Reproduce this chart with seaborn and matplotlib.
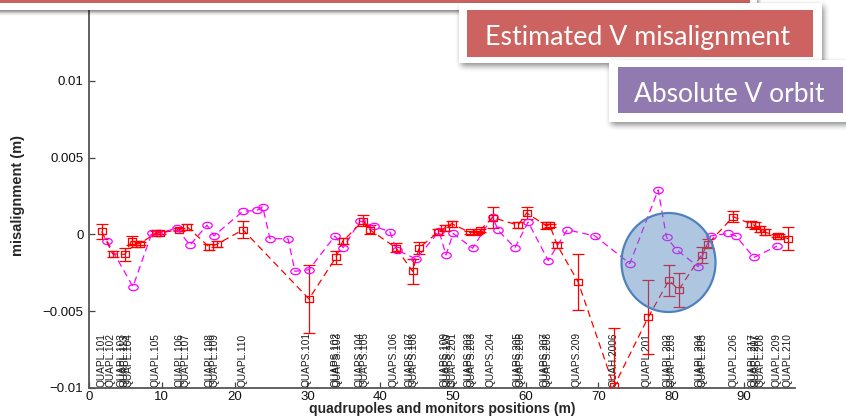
import numpy as np
import matplotlib
matplotlib.use("Agg")
import matplotlib.pyplot as plt
import seaborn as sns
from matplotlib.patches import Rectangle, Ellipse
from matplotlib.path import Path

# Estimated vertical misalignment of the quadrupoles (m) and its uncertainty
quad_pos = [1.74, 3.26, 4.95, 5.87, 6.46, 7.01, 9.2, 9.75, 12.36, 13.46, 16.48, 17.54,
            21.15, 30.22, 33.93, 34.85, 37.68, 38.6, 42.17, 44.46, 45.37, 47.98, 48.9,
            49.82, 52.34, 53.26, 53.71, 55.45, 58.97, 60.12, 62.77, 63.32, 64.33, 67.21,
            72.12, 76.83, 79.67, 81.04, 84.16, 85.07, 88.5, 90.89, 91.48, 92.17, 92.86,
            94.46, 94.82, 96.06]
quad_mis = [0.00019, -0.00127, -0.0013, -0.0004, -0.0006, -0.0006, 0.0001, 0.0001,
            0.0003, 0.0005, -0.0008, -0.00065, 0.0003, -0.0042, -0.0015, -0.00045,
            0.0009, 0.0003, -0.00087, -0.0024, -0.00087, 0.00015, 0.00043, 0.0007,
            0.00013, 0.00015, 0.00026, 0.0011, 0.0006, 0.0014, 0.00058, 0.00058,
            -0.0007, -0.0031, -0.0099, -0.0054, -0.003, -0.0036, -0.00134, -0.0006,
            0.00115, 0.0007, 0.00058, 0.00037, 0.00015, -0.0001, -0.0001, -0.00028]
quad_err = [0.0005, 0.0002, 0.0004, 0.0003, 0.0002, 0.0001, 0.0001, 0.0001,
            0.0001, 0.0002, 0.0002, 0.0002, 0.00055, 0.0022, 0.0004, 0.0002,
            0.00035, 0.0003, 0.0003, 0.0008, 0.0004, 0.0002, 0.0002, 0.0002,
            0.0001, 0.0001, 0.0001, 0.0007, 0.0002, 0.0004, 0.0002, 0.0001,
            0.0002, 0.0018, 0.0038, 0.0024, 0.001, 0.0011, 0.0005, 0.0003,
            0.00035, 0.0002, 0.0002, 0.0002, 0.0002, 0.0001, 0.0001, 0.00075]

# Absolute vertical orbit read at the monitors (m)
bpm_pos = [2.47, 6.04, 8.65, 9.34, 9.75, 12.05, 13.87, 16.21, 17.17, 21.11, 23.04,
           23.87, 24.86, 27.34, 28.3, 30.22, 33.79, 34.93, 37.23, 39.15, 41.35, 42.27,
           44.92, 48.12, 49.04, 50.04, 52.71, 55.45, 56.22, 58.52, 60.34, 63.09, 65.7,
           69.51, 74.31, 78.2, 79.35, 80.73, 83.7, 85.4, 87.82, 88.87, 91.35, 94.55]
bpm_orbit = [-0.00043, -0.0034, 0.0001, 0.0001, 0.0001, 0.0004, -0.0007, 0.0006,
             -0.0001, 0.0015, 0.00156, 0.0018, -0.00028, -0.00028, -0.0024, -0.0023,
             -0.0001, -0.00087, 0.00087, 0.00054, 0.00017, -0.001, -0.0016, 0.0002,
             -0.00134, 0.00006, -0.0009, 0.00115, 0.00026, -0.00087, 0.0008, -0.0017,
             0.0003, -0.0001, -0.0019, 0.0029, -0.0002, -0.001, -0.0021, -0.0001,
             0.00006, -0.0001, -0.0015, -0.00076]

# Element names written along the bottom of the axes
elem_names = ["QUAPL.101", "QUAPL.102", "QUAPL.103", "QUAPL.113", "QUAPL.104",
              "QUAPL.105", "QUAPL.106", "QUAPL.107", "QUAPL.108", "QUAPL.109",
              "QUAPL.110", "QUAPS.101", "QUAPS.102", "QUAPS.103", "QUAPS.104",
              "QUAPS.105", "QUAPS.106", "QUAPS.107", "QUAPS.108", "QUAPS.109",
              "QUAPS.110", "QUAPS.201", "QUAPS.202", "QUAPS.203", "QUAPS.204",
              "QUAPS.205", "QUAPS.206", "QUAPS.207", "QUAPS.208", "QUAPS.209",
              "QUAH.2006", "QUAPL.201", "QUAPL.202", "QUAPL.203", "QUAPL.204",
              "QUAPL.205", "QUAPL.206", "QUAPL.217", "QUAPL.207", "QUAPL.208",
              "QUAPL.209", "QUAPL.210"]
elem_pos = [1.65, 3.02, 4.4, 4.9, 5.36, 9.2, 12.5, 13.2, 16.6, 17.2, 21.15, 29.9,
            33.8, 34.2, 37.2, 37.8, 41.8, 44.1, 44.6, 48.9, 49.3, 49.9, 52.2, 52.6,
            55.1, 58.9, 59.3, 62.6, 63.0, 67.0, 72.0, 76.6, 79.5, 80.1, 83.9, 84.3,
            88.5, 91.1, 91.6, 92.2, 94.5, 96.0]

x_ticks = [0, 10, 20, 30, 40, 50, 60, 70, 80, 90]
y_ticks = [-0.01, -0.005, 0, 0.005, 0.01]
y_tick_labels = ["\u22120.01", "\u22120.005", "0", "0.005", "0.01"]

callout_red = "Estimated V misalignment"
callout_purple = "Absolute V orbit"

sns.set_style("ticks")
plt.rcParams["font.family"] = ["Liberation Sans", "DejaVu Sans"]

W, H = 846, 417
fig = plt.figure(figsize=(W / 100, H / 100), dpi=100)


def fx(px):
    return px / W


def fy(py):
    return 1 - py / H


ax = fig.add_axes([fx(89), fy(388), fx(795) - fx(89), fy(4) - fy(388)])
ax.set_xlim(0, 97)
ax.set_ylim(-0.01, 0.015)


def stretched(kind, ratio):
    """Open marker path drawn wider than tall."""
    if kind == "circle":
        base = Path.unit_circle()
        return Path(base.vertices * [ratio, 1.0], base.codes)
    verts = np.array([[-1, -1], [1, -1], [1, 1], [-1, 1], [-1, -1]], float)
    codes = [Path.MOVETO, Path.LINETO, Path.LINETO, Path.LINETO, Path.CLOSEPOLY]
    return Path(verts * [ratio, 1.0], codes)


# Monitor orbit: magenta dashed line with open circles
sns.lineplot(x=bpm_pos, y=bpm_orbit, ax=ax, color="#ff00ff", linewidth=0.9,
             linestyle="--", marker=stretched("circle", 1.5), markersize=6.8,
             markerfacecolor="none", markeredgecolor="#ff00ff", markeredgewidth=0.9,
             estimator=None, sort=False, zorder=3)
ax.lines[-1].set_dashes([5.5, 3.5])

# Quadrupole misalignments: red dashed line, open squares, error bars
ax.errorbar(quad_pos, quad_mis, yerr=quad_err, fmt="none", ecolor="red",
            elinewidth=0.9, capsize=4.4, capthick=0.9, zorder=2)
sns.lineplot(x=quad_pos, y=quad_mis, ax=ax, color="red", linewidth=0.9,
             linestyle="--", marker=stretched("square", 1.3), markersize=5.8,
             markerfacecolor="none", markeredgecolor="red", markeredgewidth=0.9,
             estimator=None, sort=False, zorder=4)
ax.lines[-1].set_dashes([5.5, 3.5])

# Element names
for name, pos in zip(elem_names, elem_pos):
    ax.text(pos, -0.00993, name, rotation=90, ha="center", va="bottom",
            fontsize=7.3, color="#1a1a1a",
            family=["Liberation Sans Narrow", "Liberation Sans", "DejaVu Sans"],
            zorder=1)

ax.set_xticks(x_ticks)
ax.set_yticks(y_ticks)
ax.set_yticklabels(y_tick_labels)
ax.tick_params(direction="in", length=4.5, width=0.9, colors="#444444",
               labelcolor="#111111", labelsize=9.5)
ax.tick_params(axis="x", pad=2.5)
ax.tick_params(axis="y", pad=4)
for side in ("top", "right"):
    ax.spines[side].set_visible(False)
for side in ("left", "bottom"):
    ax.spines[side].set_color("#555555")
    ax.spines[side].set_linewidth(1.3)

ax.set_xlabel("quadrupoles and monitors positions (m)", fontsize=10,
              fontweight="bold")
ax.xaxis.set_label_coords(0.5, (388 - 402) / (388 - 4))
ax.set_ylabel("misalignment (m)", fontsize=10.5, fontweight="bold")
ax.yaxis.set_label_coords((25 - 89) / (795 - 89), 0.5)


# ---- slide decorations drawn on top of the figure ----
def soft_shadow(x0, y0, x1, y1, off=(2, 3), blur=3, strength=0.45, z=5):
    pad = blur * 4
    w = int(x1 - x0 + 2 * pad)
    h = int(y1 - y0 + 2 * pad)
    mask = np.zeros((h, w))
    mask[pad:pad + int(y1 - y0), pad:pad + int(x1 - x0)] = 1.0
    k = np.ones(2 * blur + 1) / (2 * blur + 1)
    for _ in range(2):
        mask = np.apply_along_axis(lambda r: np.convolve(r, k, mode="same"), 1, mask)
        mask = np.apply_along_axis(lambda c: np.convolve(c, k, mode="same"), 0, mask)
    rgba = np.zeros((h, w, 4))
    rgba[..., 3] = mask * strength
    fig.figimage(rgba, xo=int(x0 - pad + off[0]), yo=int(H - (y1 + pad + off[1])),
                 origin="upper", zorder=z)


def px_rect(x0, y0, x1, y1, color, z):
    fig.add_artist(Rectangle((fx(x0), fy(y1)), fx(x1) - fx(x0), fy(y0) - fy(y1),
                             transform=fig.transFigure, facecolor=color,
                             edgecolor="none", zorder=z))


# Banner across the top
soft_shadow(-20, -20, 757, 10, off=(1, 2), blur=2, strength=0.55, z=5)
px_rect(0, 0, 757, 10, "white", 6)
px_rect(0, 0, 750, 3, "#cd6360", 7)

# Highlight circle
fig.add_artist(Ellipse((fx(668.5), fy(262.5)), fx(94), fy(0) - fy(99),
                       transform=fig.transFigure,
                       facecolor=(0.31, 0.506, 0.741, 0.45),
                       edgecolor="#4f81bd", linewidth=1.6, zorder=6))

# Callout boxes
soft_shadow(459, 3, 822, 63, off=(2, 3), blur=3, strength=0.45, z=8)
px_rect(459, 3, 822, 63, "white", 9)
px_rect(467, 10, 813, 57, "#cd6360", 10)
fig.text(fx(638), fy(45.5), callout_red, color="white", fontsize=19.3,
         ha="center", va="baseline", family=["Lato", "DejaVu Sans"], zorder=11)

soft_shadow(609, 60, 860, 122, off=(2, 3), blur=3, strength=0.45, z=12)
px_rect(609, 60, 860, 122, "white", 13)
px_rect(618, 67, 843, 113, "#917ab0", 14)
fig.text(fx(729), fy(101.5), callout_purple, color="white", fontsize=19,
         ha="center", va="baseline", family=["Lato", "DejaVu Sans"], zorder=15)

fig.savefig("out.png", dpi=100)
